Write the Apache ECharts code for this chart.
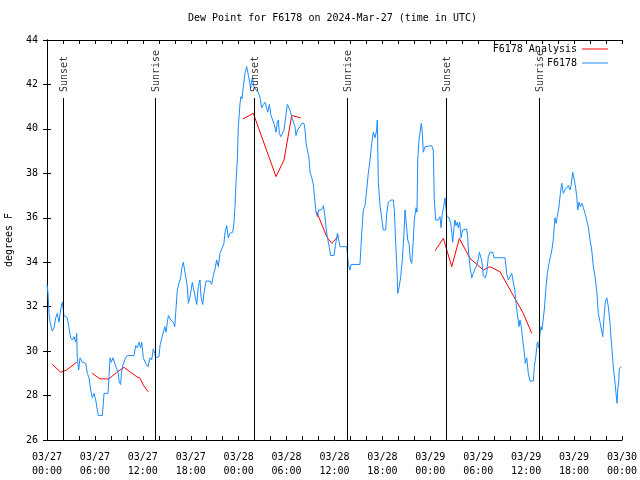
<!DOCTYPE html>
<html><head><meta charset="utf-8">
<script src="https://cdn.jsdelivr.net/npm/echarts@6/dist/echarts.min.js"></script>
<style>html,body{margin:0;padding:0;background:#fff}#c{width:640px;height:480px}</style>
</head><body><div id="c"></div><script>
// Hours since 2024-03-27 00:00 UTC
const obsHours = [0.00,0.13,0.25,0.38,0.66,0.88,1.09,1.29,1.50,1.71,1.92,2.13,2.54,2.75,2.97,3.17,3.38,3.59,3.72,3.79,3.97,4.13,4.30,4.42,4.85,5.05,5.26,5.47,5.67,5.88,6.10,6.30,6.42,6.93,7.05,7.14,7.64,7.76,7.89,8.05,8.26,8.48,8.73,8.89,9.06,9.23,9.31,9.48,9.64,9.85,10.06,10.89,11.11,11.31,11.52,11.73,11.86,12.06,12.36,12.65,12.90,13.11,13.31,13.49,13.61,14.03,14.15,14.32,14.57,14.75,14.91,15.07,15.20,15.50,15.82,16.00,16.12,16.32,16.53,16.74,16.87,17.07,17.24,17.37,17.57,17.70,17.87,18.00,18.20,18.33,18.75,18.95,19.16,19.28,19.49,19.66,19.91,20.41,20.62,20.82,21.04,21.25,21.45,21.66,21.87,22.16,22.29,22.50,22.70,22.91,23.25,23.41,23.54,23.66,23.83,23.96,24.17,24.29,24.42,24.58,24.79,25.00,25.21,25.33,25.50,25.71,25.92,26.17,26.46,26.67,26.88,27.09,27.30,27.51,27.64,27.84,28.05,28.26,28.46,28.68,28.84,28.97,29.09,29.27,29.52,29.68,29.89,30.09,30.27,30.43,30.64,30.84,31.05,31.18,31.35,31.56,31.68,31.90,32.18,32.31,32.44,32.60,32.78,32.94,33.15,33.35,33.53,33.69,33.85,34.03,34.31,34.53,34.60,34.81,34.94,35.10,35.35,35.53,35.94,36.11,36.36,36.53,36.70,37.53,37.73,37.94,38.07,39.19,39.41,39.61,39.82,40.03,40.23,40.45,40.66,40.86,41.07,41.28,41.36,41.49,41.70,41.91,42.11,42.41,42.54,42.74,43.08,43.36,43.49,43.66,43.79,43.92,44.08,44.29,44.49,44.70,44.83,44.95,45.17,45.33,45.49,45.67,45.87,45.99,46.21,46.33,46.42,46.58,46.75,46.87,47.00,47.12,47.33,47.55,48.17,48.37,48.50,48.67,49.00,49.21,49.34,49.50,49.67,49.84,49.96,50.05,50.34,50.55,50.68,50.80,50.93,51.09,51.22,51.38,51.50,51.68,51.84,52.05,52.55,52.68,52.76,52.97,53.18,53.38,53.59,53.81,54.01,54.13,54.31,54.43,54.63,54.85,55.06,55.26,55.47,55.81,55.97,57.35,57.56,57.77,57.98,58.19,58.39,58.57,58.73,58.89,59.10,59.23,59.39,59.57,59.73,59.89,60.07,60.27,60.48,60.90,61.02,61.20,61.40,61.57,61.73,61.86,61.98,62.15,62.27,62.49,62.65,62.86,63.07,63.24,63.40,63.61,63.74,63.90,64.11,64.28,64.45,64.65,64.86,65.08,65.28,65.49,65.62,65.83,65.99,66.16,66.33,66.46,66.62,66.78,66.99,67.16,67.37,67.58,67.78,68.00,68.21,68.41,68.62,68.83,69.03,69.25,69.46,69.59,69.75,69.91,70.09,70.29,70.50,70.71,70.91,71.09,71.25,71.38,71.46,71.59,71.66,71.88];
const obsValues = [33.0,32.6,31.7,31.3,30.9,31.05,31.5,31.7,31.3,31.85,32.2,31.6,31.5,31.05,30.6,30.5,30.65,30.4,30.8,29.7,29.15,29.7,29.6,29.5,29.45,29.0,28.8,28.25,27.9,28.1,27.8,27.35,27.1,27.1,27.65,28.1,28.1,28.8,29.7,29.5,29.7,29.45,29.2,29.05,28.6,28.5,29.0,29.35,29.3,29.7,29.8,29.8,30.25,30.15,30.4,30.15,30.4,29.7,29.45,29.3,29.7,29.6,30.1,29.9,29.7,29.75,30.25,30.5,30.85,31.1,30.85,31.3,31.6,31.4,31.3,31.1,31.75,32.75,33.05,33.3,33.7,34.0,34.0,33.35,32.9,32.15,32.4,32.65,33.1,32.85,32.1,32.9,33.2,32.45,32.1,32.6,33.15,33.15,33.0,33.4,33.7,34.1,33.8,34.4,34.4,34.85,35.35,35.65,35.1,35.3,35.35,35.75,36.5,37.55,38.6,40.1,41.15,41.45,41.35,41.9,42.5,42.8,42.8,42.2,41.85,42.3,41.9,41.75,41.65,41.4,40.95,41.1,41.2,41.15,40.75,41.1,40.6,40.4,40.2,39.85,40.3,40.4,39.8,39.65,39.65,39.95,40.55,41.1,41.15,40.85,40.55,40.5,40.1,39.7,39.95,39.95,40.1,40.25,40.25,39.95,39.35,39.05,38.75,38.05,37.8,37.5,36.8,36.25,36.05,36.35,36.35,36.45,36.55,36.05,35.55,35.15,34.65,34.3,34.3,34.75,35.3,35.0,34.7,34.7,33.9,33.65,33.9,33.9,35.3,36.35,36.55,37.25,38.0,38.6,39.35,39.85,39.6,39.95,40.4,37.6,36.55,36.5,35.45,35.45,36.2,36.7,36.8,36.8,36.35,34.85,33.95,32.6,32.85,33.35,34.1,35.3,36.35,35.9,35.0,34.85,34.1,33.95,35.0,35.9,36.45,36.25,38.6,39.5,39.95,40.25,39.8,38.95,39.2,39.25,39.25,39.05,36.8,35.9,35.9,36.05,35.55,36.2,36.5,36.9,36.95,36.1,36.0,35.75,35.35,34.9,35.45,35.9,35.65,35.8,35.55,35.8,35.1,35.45,35.5,35.15,34.55,33.8,33.3,33.5,33.7,33.85,34.15,34.45,34.4,34.1,33.4,33.3,33.5,34.25,34.45,34.45,34.2,34.2,33.5,33.2,33.35,33.5,33.5,32.75,32.15,31.7,31.1,31.4,31.1,30.5,30.05,29.45,29.7,29.0,28.65,28.65,29.3,29.75,30.4,30.15,30.8,31.1,30.95,31.0,31.85,32.9,33.5,33.95,34.3,34.6,35.05,36.0,35.75,36.05,36.5,37.1,37.55,37.1,37.25,37.3,37.45,37.25,37.45,38.05,38.0,37.45,36.95,36.35,36.7,36.5,36.65,36.45,36.2,35.9,35.6,35.0,34.55,33.8,33.35,32.75,31.7,31.3,31.25,30.65,31.55,32.2,32.4,32.0,31.25,30.2,29.3,28.7,28.1,27.65,28.25,28.6,29.2,29.3];
// Analysis (null = gap)
const anaHours = [0.66,1.72,2.46,3.72,4.5,5.67,6.64,7.76,8.73,9.64,10.39,11.23,11.65,12.06,12.68,18.0,24.54,25.83,28.68,29.68,30.64,31.77,32.5,33.77,35.02,35.65,36.56,42.0,48.59,49.63,50.68,51.63,52.97,54.63,55.47,56.73,57.77,58.82,59.64,60.70];
const anaValues = [29.4,29.05,29.15,29.5,null,29.0,28.75,28.75,29.05,29.27,29.07,28.85,28.78,28.47,28.17,null,40.45,40.7,37.85,38.6,40.6,40.5,null,36.27,35.15,34.85,35.2,null,34.52,35.07,33.8,35.07,34.17,33.65,33.8,33.57,32.9,32.22,31.7,30.8];
const sunHours = [2.00,13.52,25.92,37.57,49.96,61.61];
const sunLabels = ['Sunset','Sunrise','Sunset','Sunrise','Sunset','Sunrise'];
const seriesNames = ['F6178 Analysis','F6178'];
const titleText = 'Dew Point for F6178 on 2024-Mar-27 (time in UTC)';
const yName = 'degrees F';
const xMin = 0, xMax = 72, xStep = 6;
const yMin = 26, yMax = 44, yStep = 2;
const startMonth = '03', startDay = 27;

const FONT = "'DejaVu Sans Mono','Liberation Mono',monospace";
function pad(n){return (n<10?'0':'')+n;}
function xFmt(h){const d=startDay+Math.floor(h/24);const hh=Math.round(h%24);return startMonth+'/'+pad(d)+'\n'+pad(hh)+':00';}

const chart = echarts.init(document.getElementById('c'), null, {renderer:'canvas'});
const tickCommon = {show:true, inside:true, length:4, lineStyle:{color:'#000',width:1}};
const lineCommon = {show:true, lineStyle:{color:'#000',width:1}};
chart.setOption({
  animation:false,
  backgroundColor:'#fff',
  title:{text:titleText, left:188, top:13, padding:0,
    textStyle:{fontFamily:FONT,fontSize:10,fontWeight:'normal',color:'#000'}},
  legend:[
    {data:[seriesNames[0]], right:32, top:44, padding:0, align:'right', icon:'rect', itemWidth:26, itemHeight:1,
     textStyle:{fontFamily:FONT,fontSize:10,color:'#000'}},
    {data:[seriesNames[1]], right:32, top:58, padding:0, align:'right', icon:'rect', itemWidth:26, itemHeight:1,
     textStyle:{fontFamily:FONT,fontSize:10,color:'#000'}}
  ],
  grid:{left:47, right:18, top:40, bottom:40, containLabel:false, outerBoundsMode:'none'},
  xAxis:[
    {type:'value', position:'bottom', min:xMin, max:xMax, interval:xStep,
     axisLine:lineCommon, axisTick:tickCommon,
     minorTick:{show:true, splitNumber:3, length:4, lineStyle:{color:'#000',width:1}},
     splitLine:{show:false},
     axisLabel:{formatter:xFmt, fontFamily:FONT, fontSize:10, color:'#000', lineHeight:14, margin:10, showMinLabel:true, showMaxLabel:true}},
    {type:'value', position:'top', min:xMin, max:xMax, interval:xStep,
     axisLine:lineCommon, axisTick:tickCommon,
     minorTick:{show:true, splitNumber:3, length:4, lineStyle:{color:'#000',width:1}},
     splitLine:{show:false}, axisLabel:{show:false}}
  ],
  yAxis:[
    {type:'value', position:'left', min:yMin, max:yMax, interval:yStep,
     name:yName, nameLocation:'middle', nameGap:33, nameRotate:90,
     nameTextStyle:{fontFamily:FONT,fontSize:10,color:'#000'},
     axisLine:lineCommon, axisTick:tickCommon, splitLine:{show:false},
     axisLabel:{fontFamily:FONT,fontSize:10,color:'#000',margin:9}},
    {type:'value', position:'right', min:yMin, max:yMax, interval:yStep,
     axisLine:lineCommon, axisTick:tickCommon, splitLine:{show:false}, axisLabel:{show:false}}
  ],
  series:[
    {name:seriesNames[0], type:'line', xAxisIndex:0, yAxisIndex:0,
     data:anaHours.map((h,i)=>[h, anaValues[i]]), connectNulls:false,
     showSymbol:false, symbol:'none', lineStyle:{color:'#ff0000',width:1}, itemStyle:{color:'#ff0000'}, z:2},
    {name:seriesNames[1], type:'line', xAxisIndex:0, yAxisIndex:0,
     data:obsHours.map((h,i)=>[h, obsValues[i]]),
     showSymbol:false, symbol:'none', lineStyle:{color:'#1a8cff',width:1}, itemStyle:{color:'#1a8cff'}, z:3},
    {name:'sun', type:'scatter', xAxisIndex:0, yAxisIndex:0, symbolSize:1, z:4,
     itemStyle:{color:'rgba(0,0,0,0)'},
     data:sunHours.map((t,i)=>({value:[t, 41.66], name:sunLabels[i]})),
     label:{show:true, formatter:'{b}', position:'inside', rotate:90, align:'left', verticalAlign:'middle',
       offset:[0,1], fontFamily:FONT, fontSize:10, color:'#000'},
     markLine:{silent:true, symbol:['none','none'], label:{show:false},
       lineStyle:{color:'#000',width:1,type:'solid'},
       data:sunHours.map(t=>[{coord:[t, yMin]},{coord:[t, 41.39]}])}}
  ]
});
</script></body></html>
